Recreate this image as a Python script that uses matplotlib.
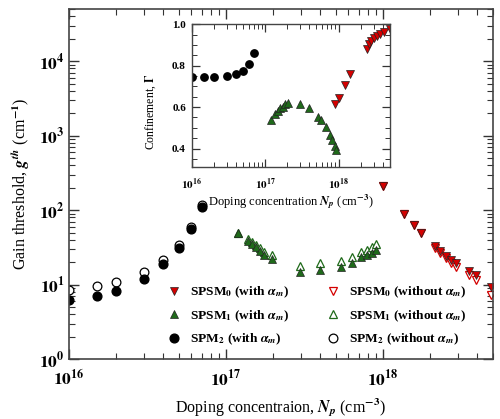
import matplotlib
matplotlib.use("Agg")
import matplotlib.pyplot as plt
from matplotlib.lines import Line2D
from matplotlib.ticker import MultipleLocator, FuncFormatter
import numpy as np

plt.rcParams['font.family'] = ['Liberation Serif', 'DejaVu Serif']
plt.rcParams['font.weight'] = 'bold'
plt.rcParams['mathtext.fontset'] = 'stix'

# ---- main plot data: gain threshold (cm^-1) vs doping (cm^-3)
n_spm2 = [1e16, 1.5e16, 2e16, 3e16, 4e16, 5e16, 6e16, 7e16]
g_spm2 = [6.2, 7.0, 8.2, 11.8, 18.8, 31, 56, 110]
g_spm2_no = [8.4, 9.5, 10.7, 14.6, 21.3, 34, 59, 117]

n_spsm1 = [1.19e17, 1.38e17, 1.46e17, 1.55e17, 1.65e17, 1.75e17, 1.98e17,
           2.97e17, 3.96e17, 5.38e17, 6.38e17, 7.3e17, 7.9e17, 8.47e17, 9.0e17]
g_spsm1 = [48.7, 38.7, 35, 31.6, 28.4, 24.9, 22.4,
           14.9, 15.7, 17.3, 19.6, 23.2, 24.9, 26.7, 29]
g_spsm1_no = [50, 40.5, 37, 34, 31, 27.5, 24.9,
              17.7, 19.6, 20.9, 23.6, 27.5, 29.6, 32, 35]

n_spsm0 = [1.0e18, 1.37e18, 1.57e18, 1.76e18, 2.14e18, 2.32e18, 2.54e18,
           2.73e18, 2.94e18, 3.52e18, 3.92e18, 4.9e18]
g_spsm0 = [210, 87.5, 63, 48.7, 32.9, 28.2, 24.1, 21.3, 19.6, 15.3, 13.4, 9.2]
g_spsm0_no = [210, 87.5, 63, 48.7, 31.5, 26.5, 22.5, 19.5, 17, 13.4, 11.5, 7.2]

# ---- inset data: confinement factor
ni_spm2 = [1e16, 1.5e16, 2e16, 3e16, 4e16, 5e16, 6e16, 7e16]
c_spm2 = [0.745, 0.745, 0.745, 0.751, 0.76, 0.773, 0.806, 0.863]

ni_spsm1 = [1.2e17, 1.37e17, 1.49e17, 1.6e17, 1.73e17, 1.88e17, 2.03e17,
            3.0e17, 4.0e17, 5.2e17, 5.7e17, 6.8e17, 7.7e17, 8.2e17, 8.8e17, 9.3e17]
c_spsm1 = [0.538, 0.568, 0.58, 0.594, 0.603, 0.613, 0.619,
           0.613, 0.594, 0.552, 0.537, 0.505, 0.467, 0.44, 0.414, 0.394]

ni_spsm0 = [9.0e17, 1.0e18, 1.23e18, 1.43e18, 2.4e18, 2.6e18, 2.8e18,
            3.05e18, 3.3e18, 3.7e18, 4.1e18, 5.0e18]
c_spsm0 = [0.616, 0.645, 0.708, 0.76, 0.882, 0.903, 0.919, 0.932, 0.943,
           0.954, 0.962, 0.978]

RED = '#d40000'
GREEN = '#1f6a1a'
EDGE = '#222222'


def pow10(v, pos):
    e = int(round(np.log10(v)))
    return r'$\mathbf{10^{%d}}$' % e


fig = plt.figure(figsize=(5.0, 4.19), dpi=100)
ax = fig.add_axes([0.138, 0.143, 0.847, 0.835])

# open (without alpha_m) first, filled on top
ax.plot(n_spm2, g_spm2_no, 'o', ms=6.3, mfc='white', mec='black', mew=0.9)
ax.plot(n_spsm1, g_spsm1_no, '^', ms=5.8, mfc='white', mec=GREEN, mew=0.9)
ax.plot(n_spsm0, g_spsm0_no, 'v', ms=5.8, mfc='white', mec=RED, mew=0.9)
ax.plot(n_spm2, g_spm2, 'o', ms=6.3, mfc='black', mec='black')
ax.plot(n_spsm1, g_spsm1, '^', ms=5.8, mfc=GREEN, mec=EDGE, mew=0.5)
ax.plot(n_spsm0, g_spsm0, 'v', ms=5.8, mfc=RED, mec=EDGE, mew=0.5)

ax.set_xscale('log')
ax.set_yscale('log')
ax.set_xlim(1e16, 5e18)
ax.set_ylim(1, 5e4)
ax.xaxis.set_major_formatter(FuncFormatter(pow10))
ax.yaxis.set_major_formatter(FuncFormatter(pow10))
ax.tick_params(which='both', direction='in', top=True, right=True,
               labelsize=12.5, colors='#333333', labelcolor='black')
ax.tick_params(which='major', length=7, width=1.0, pad=7)
ax.tick_params(axis='y', which='major', pad=3)
ax.tick_params(which='minor', length=4, width=0.8)
for s in ax.spines.values():
    s.set_color('#444444')
    s.set_linewidth(1.2)
ax.set_xlabel(r'Doping concentraion, $N_p$ (cm$^{-3}$)', fontsize=11.5, labelpad=5)
ax.set_ylabel(r'Gain threshold, $g^{th}$ (cm$^{-1}$)', fontsize=11.5, labelpad=5)

h_filled = [
    Line2D([], [], ls='', marker='v', ms=5.8, mfc=RED, mec=EDGE, mew=0.5),
    Line2D([], [], ls='', marker='^', ms=5.8, mfc=GREEN, mec=EDGE, mew=0.5),
    Line2D([], [], ls='', marker='o', ms=6.3, mfc='black', mec='black'),
]
h_open = [
    Line2D([], [], ls='', marker='v', ms=5.8, mfc='white', mec=RED, mew=0.9),
    Line2D([], [], ls='', marker='^', ms=5.8, mfc='white', mec=GREEN, mew=0.9),
    Line2D([], [], ls='', marker='o', ms=6.3, mfc='white', mec='black', mew=0.9),
]
lab_filled = [r'SPSM$_0$ (with $\alpha_m$)', r'SPSM$_1$ (with $\alpha_m$)',
              r'SPM$_2$ (with $\alpha_m$)']
lab_open = [r'SPSM$_0$ (without $\alpha_m$)', r'SPSM$_1$ (without $\alpha_m$)',
            r'SPM$_2$ (without $\alpha_m$)']
leg_kw = dict(loc='upper left', frameon=False, fontsize=9.6, handletextpad=0.7,
              labelspacing=0.6, handlelength=1.0, borderaxespad=0, borderpad=0)
leg1 = ax.legend(h_filled, lab_filled, bbox_to_anchor=(0.232, 0.212), **leg_kw)
ax.add_artist(leg1)
ax.legend(h_open, lab_open, bbox_to_anchor=(0.607, 0.212), **leg_kw)

# ---- inset
ins = fig.add_axes([0.383, 0.601, 0.397, 0.341])
ins.plot(ni_spm2, c_spm2, 'o', ms=5.3, mfc='black', mec='black')
ins.plot(ni_spsm1, c_spsm1, '^', ms=5.3, mfc=GREEN, mec=EDGE, mew=0.5)
ins.plot(ni_spsm0, c_spsm0, 'v', ms=5.3, mfc=RED, mec=EDGE, mew=0.5)
ins.set_xscale('log')
ins.set_xlim(1e16, 5e18)
ins.set_ylim(0.31, 1.0)
ins.xaxis.set_major_formatter(FuncFormatter(pow10))
ins.yaxis.set_major_locator(MultipleLocator(0.2))
ins.yaxis.set_minor_locator(MultipleLocator(0.05))
ins.tick_params(which='both', direction='in', top=True, right=True,
                labelsize=8, colors='#333333', labelcolor='black')
ins.tick_params(which='major', length=6, width=0.9, pad=4)
ins.tick_params(axis='x', which='major', pad=7)
ins.tick_params(which='minor', length=3.5, width=0.7)
for s in ins.spines.values():
    s.set_color('#444444')
    s.set_linewidth(1.0)
ins.set_xlabel(r'Doping concentration $N_p$ (cm$^{-3}$)', fontsize=9, labelpad=0)
ins.set_ylabel(r'Confinement, $\Gamma$', fontsize=8.5)
ins.yaxis.set_label_coords(-0.17, 0.39)

fig.savefig('out.png', dpi=100)
